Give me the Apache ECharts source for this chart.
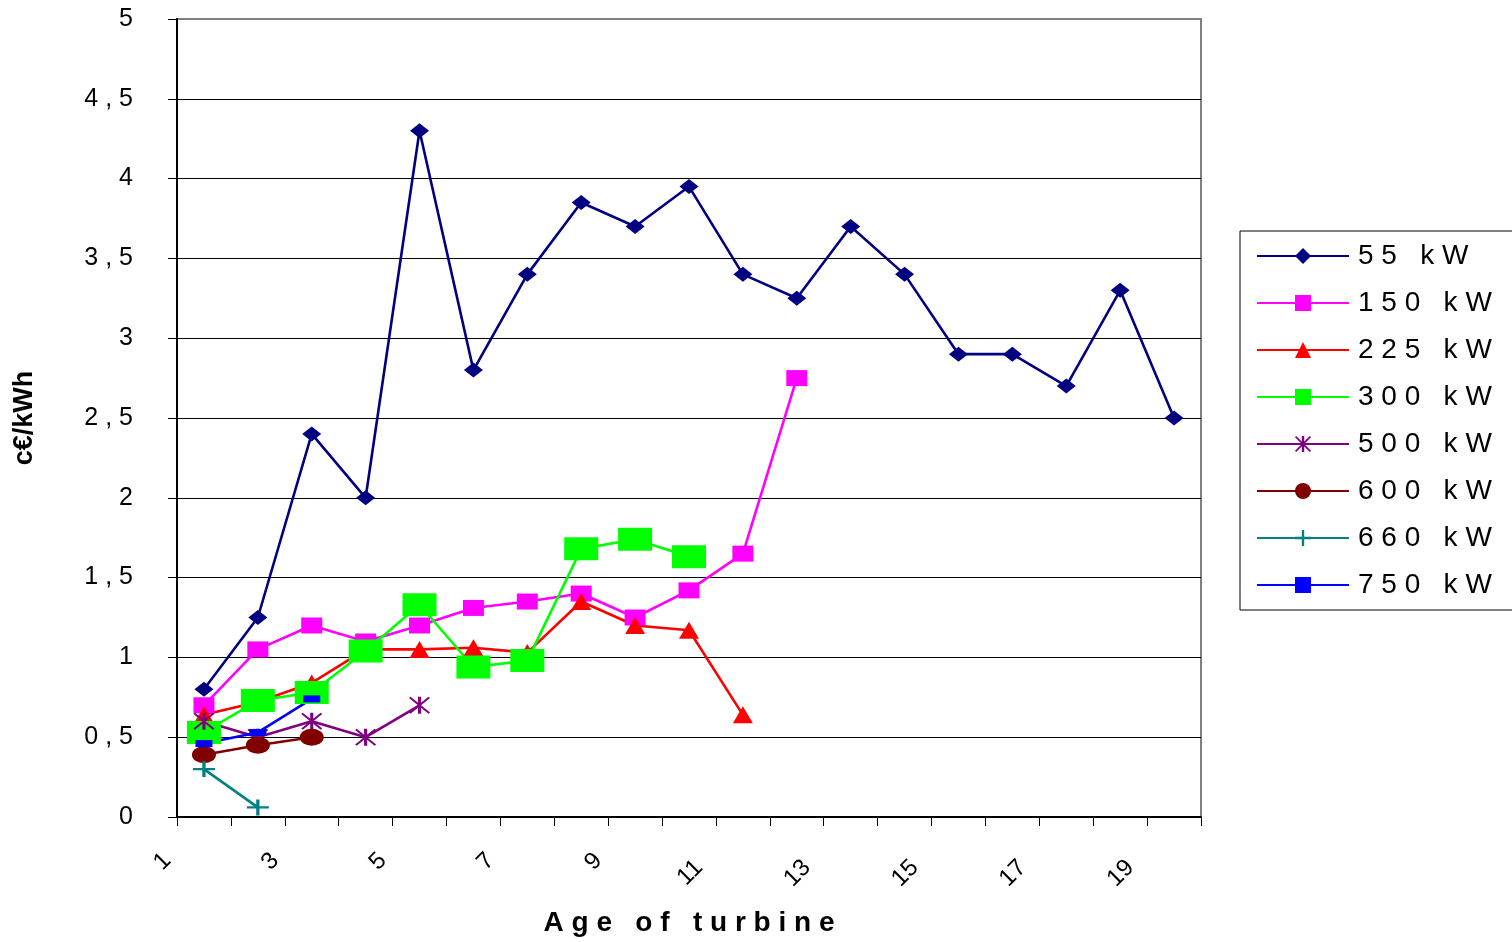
<!DOCTYPE html>
<html>
<head>
<meta charset="utf-8">
<script src="https://cdn.jsdelivr.net/npm/echarts@6/dist/echarts.min.js"></script>
<style>html,body{margin:0;padding:0;background:#fff;}#c{width:1512px;height:942px;}</style>
</head>
<body>
<div id="c"></div>
<script>
const categories = ['1','2','3','4','5','6','7','8','9','10','11','12','13','14','15','16','17','18','19'];
const yTicks = [0, 0.5, 1, 1.5, 2, 2.5, 3, 3.5, 4, 4.5, 5];
const seriesNames = ['55 kW','150 kW','225 kW','300 kW','500 kW','600 kW','660 kW','750 kW'];
const kw55  = [0.8, 1.25, 2.4, 2.0, 4.3, 2.8, 3.4, 3.85, 3.7, 3.95, 3.4, 3.25, 3.7, 3.4, 2.9, 2.9, 2.7, 3.3, 2.5];
const kw150 = [0.7, 1.05, 1.2, 1.1, 1.2, 1.31, 1.35, 1.4, 1.25, 1.42, 1.65, 2.75];
const kw225 = [0.64, 0.72, 0.84, 1.05, 1.05, 1.06, 1.03, 1.35, 1.2, 1.17, 0.64];
const kw300 = [0.53, 0.73, 0.78, 1.04, 1.33, 0.94, 0.98, 1.68, 1.74, 1.63];
const kw500 = [0.6, 0.5, 0.6, 0.5, 0.7];
const kw600 = [0.39, 0.45, 0.5];
const kw660 = [0.3, 0.06];
const kw750 = [0.46, 0.53, 0.74];

const ASTERISK = 'path://M8.5,0L11.5,0L11.5,20L8.5,20ZM1.5,0L20,18.5L18.5,20L0,1.5ZM18.5,0L20,1.5L1.5,20L0,18.5Z';
const PLUS = 'path://M8.5,0L11.5,0L11.5,8.5L20,8.5L20,11.5L11.5,11.5L11.5,20L8.5,20L8.5,11.5L0,11.5L0,8.5L8.5,8.5Z';

function spaced(s){ return s.split('').join(' '); }

const styles = [
  {data: kw55,  color:'#000080', symbol:'diamond', size:[19,15]},
  {data: kw150, color:'#FF00FF', symbol:'rect', size:[21,16]},
  {data: kw225, color:'#FF0000', symbol:'triangle', size:[20,17]},
  {data: kw300, color:'#00FF00', symbol:'rect', size:[34,23]},
  {data: kw500, color:'#800080', symbol:ASTERISK, size:[21,17]},
  {data: kw600, color:'#800000', symbol:'circle', size:[24,17]},
  {data: kw660, color:'#008080', symbol:PLUS, size:[22,16]},
  {data: kw750, color:'#0000FF', symbol:'rect', size:[17,7]}
];

const series = styles.map((s,i)=>({
  name: seriesNames[i],
  type: 'line',
  data: s.data,
  symbol: s.symbol,
  symbolSize: s.size,
  showAllSymbol: true,
  lineStyle: {color: s.color, width: 2.6},
  itemStyle: {color: s.color, opacity: 1},
  emphasis: {disabled: true}
}));

const splitColors = yTicks.map((v,i)=> i === yTicks.length-1 ? '#808080' : '#000000');

const chart = echarts.init(document.getElementById('c'), null, {renderer:'canvas'});
chart.setOption({
  animation: false,
  backgroundColor: '#ffffff',
  textStyle: {fontFamily: 'Liberation Sans, Arial, sans-serif'},
  grid: {left: 177, right: 311, top: 19, bottom: 123, show: true, borderColor: '#808080', borderWidth: 2, backgroundColor: '#ffffff'},
  legend: {
    orient: 'vertical',
    left: 1240, top: 231,
    padding: [11, 60, 11, 16],
    backgroundColor: '#ffffff',
    borderColor: '#000000', borderWidth: 1,
    itemWidth: 92, itemHeight: 20, itemGap: 19,
    textStyle: {fontSize: 28, color: '#000', lineHeight: 27, padding: [0,0,0,4]},
    formatter: n => spaced(n),
    data: seriesNames
  },
  xAxis: {
    type: 'category',
    data: categories,
    boundaryGap: true,
    name: 'A g e   o f   t u r b i n e',
    nameLocation: 'middle',
    nameGap: 92,
    nameTextStyle: {fontSize: 28, fontWeight: 'bold', color: '#000', verticalAlign: 'top'},
    axisLine: {lineStyle: {color: '#000', width: 2}},
    axisTick: {show: true, interval: 0, length: 9, lineStyle: {color: '#000', width: 1}},
    axisLabel: {
      interval: 1, rotate: 45, margin: 3, fontSize: 24, color: '#000',
      formatter: v => v.length > 1 ? '{d|' + v + '}' : '{s|' + v + '}',
      rich: {s: {fontSize: 24, padding: [0, 52, 0, 0]}, d: {fontSize: 24, padding: [0, 62, 0, 0]}}
    },
    splitLine: {show: false}
  },
  yAxis: {
    type: 'value',
    min: 0, max: 5, interval: 0.5,
    name: 'c€/kWh',
    nameLocation: 'middle',
    nameGap: 139,
    nameRotate: 90,
    nameTextStyle: {fontSize: 27, fontWeight: 'bold', color: '#000'},
    axisLine: {show: true, lineStyle: {color: '#000', width: 2}},
    axisTick: {show: true, length: 9, lineStyle: {color: '#000'}},
    axisLabel: {margin: 44, fontSize: 25, color: '#000', formatter: v => String(v).replace('.', ' , ')},
    splitLine: {show: true, lineStyle: {color: splitColors, width: 1}}
  },
  series: series
});
</script>
</body>
</html>
